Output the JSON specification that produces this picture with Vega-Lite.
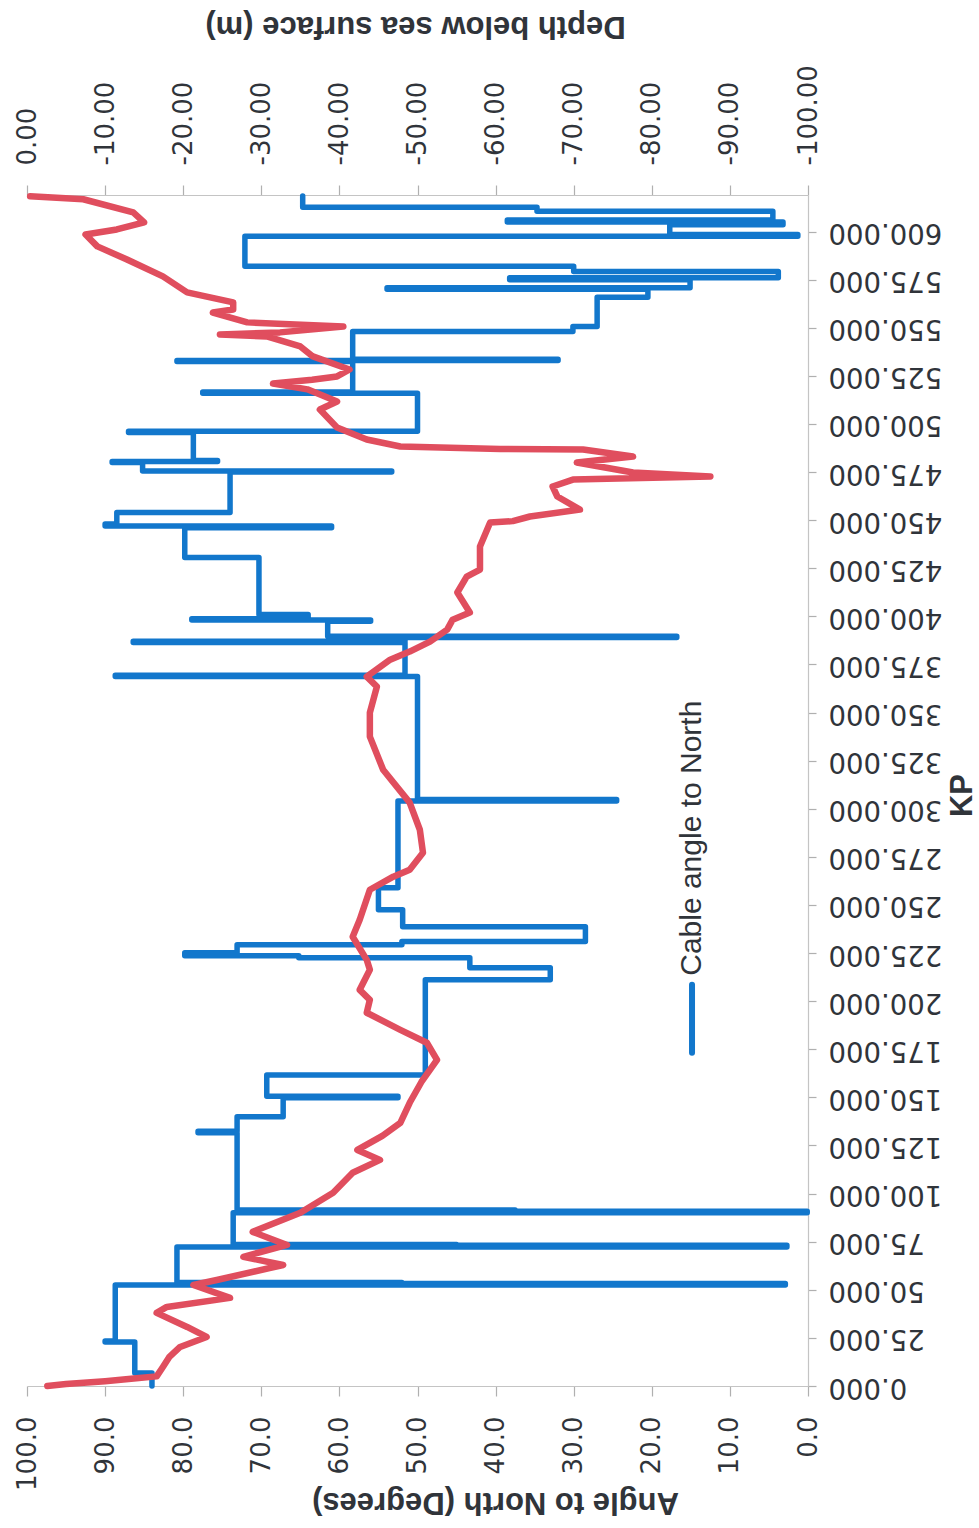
{
  "$schema": "https://vega.github.io/schema/vega-lite/v6.json",
  "width": 781,
  "height": 1191,
  "autosize": {"type": "none"},
  "padding": {"left": 27, "top": 195, "right": 171, "bottom": 142},
  "background": "white",
  "config": {
    "view": {"stroke": null},
    "axis": {
      "grid": false,
      "labelFont": "DejaVu Sans",
      "labelFontSize": 26,
      "labelColor": "#30343a",
      "titleFont": "Liberation Sans",
      "titleFontSize": 31,
      "titleFontWeight": "bold",
      "titleColor": "#30343a",
      "domainColor": "#c4c4c4",
      "domainWidth": 1.2,
      "tickColor": "#b0b0b0",
      "tickWidth": 1.2,
      "labelOverlap": false,
      "labelFlush": false,
      "labelBound": false
    }
  },
  "datasets": {
    "angle": [
      {"kp": 0, "angle": 84.0}, {"kp": 6.8, "angle": 84.0}, {"kp": 6.8, "angle": 86.2}, {"kp": 22.9, "angle": 86.2},
      {"kp": 22.9, "angle": 90.0}, {"kp": 23.4, "angle": 90.0}, {"kp": 23.4, "angle": 88.7}, {"kp": 52.5, "angle": 88.7},
      {"kp": 52.5, "angle": 2.9}, {"kp": 53.3, "angle": 2.9}, {"kp": 53.3, "angle": 52.0}, {"kp": 53.8, "angle": 52.0},
      {"kp": 53.8, "angle": 80.8}, {"kp": 72.3, "angle": 80.8}, {"kp": 72.3, "angle": 2.7}, {"kp": 73.1, "angle": 2.7},
      {"kp": 73.1, "angle": 45.0}, {"kp": 73.6, "angle": 45.0}, {"kp": 73.6, "angle": 73.6}, {"kp": 90.0, "angle": 73.6},
      {"kp": 90.0, "angle": 0.1}, {"kp": 90.8, "angle": 0.1}, {"kp": 90.8, "angle": 37.5}, {"kp": 91.5, "angle": 37.5},
      {"kp": 91.5, "angle": 73.1}, {"kp": 131.6, "angle": 73.1}, {"kp": 131.6, "angle": 78.1}, {"kp": 132.4, "angle": 78.1},
      {"kp": 132.4, "angle": 73.1}, {"kp": 139.9, "angle": 73.1}, {"kp": 139.9, "angle": 67.2}, {"kp": 149.8, "angle": 67.2},
      {"kp": 149.8, "angle": 52.5}, {"kp": 150.6, "angle": 52.5}, {"kp": 150.6, "angle": 69.3}, {"kp": 161.7, "angle": 69.3},
      {"kp": 161.7, "angle": 49.0}, {"kp": 211.1, "angle": 49.0}, {"kp": 211.1, "angle": 33.0}, {"kp": 217.4, "angle": 33.0},
      {"kp": 217.4, "angle": 43.3}, {"kp": 222.6, "angle": 43.3}, {"kp": 222.6, "angle": 65.2}, {"kp": 223.6, "angle": 65.2},
      {"kp": 223.6, "angle": 79.8}, {"kp": 225.2, "angle": 79.8}, {"kp": 225.2, "angle": 73.1}, {"kp": 229.3, "angle": 73.1},
      {"kp": 229.3, "angle": 52.0}, {"kp": 231.0, "angle": 52.0}, {"kp": 231.0, "angle": 28.5}, {"kp": 238.7, "angle": 28.5},
      {"kp": 238.7, "angle": 51.9}, {"kp": 247.5, "angle": 51.9}, {"kp": 247.5, "angle": 55.0}, {"kp": 259.0, "angle": 55.0},
      {"kp": 259.0, "angle": 52.5}, {"kp": 304.0, "angle": 52.5}, {"kp": 304.0, "angle": 24.5}, {"kp": 304.8, "angle": 24.5},
      {"kp": 304.8, "angle": 50.0}, {"kp": 368.7, "angle": 50.0}, {"kp": 368.7, "angle": 88.7}, {"kp": 369.4, "angle": 88.7},
      {"kp": 369.4, "angle": 51.6}, {"kp": 386.4, "angle": 51.6}, {"kp": 386.4, "angle": 86.4}, {"kp": 387.1, "angle": 86.4},
      {"kp": 387.1, "angle": 51.6}, {"kp": 389.0, "angle": 51.6}, {"kp": 389.0, "angle": 16.8}, {"kp": 389.7, "angle": 16.8},
      {"kp": 389.7, "angle": 61.5}, {"kp": 397.5, "angle": 61.5}, {"kp": 397.5, "angle": 56.0}, {"kp": 398.1, "angle": 56.0},
      {"kp": 398.1, "angle": 78.9}, {"kp": 398.7, "angle": 78.9}, {"kp": 398.7, "angle": 64.0}, {"kp": 401.0, "angle": 64.0},
      {"kp": 401.0, "angle": 70.3}, {"kp": 430.6, "angle": 70.3}, {"kp": 430.6, "angle": 79.8}, {"kp": 446.0, "angle": 79.8},
      {"kp": 446.0, "angle": 61.0}, {"kp": 447.0, "angle": 61.0}, {"kp": 447.0, "angle": 90.0}, {"kp": 448.0, "angle": 90.0},
      {"kp": 448.0, "angle": 88.5}, {"kp": 454.0, "angle": 88.5}, {"kp": 454.0, "angle": 74.0}, {"kp": 475.0, "angle": 74.0},
      {"kp": 475.0, "angle": 53.3}, {"kp": 475.6, "angle": 53.3}, {"kp": 475.6, "angle": 85.2}, {"kp": 480.0, "angle": 85.2},
      {"kp": 480.0, "angle": 89.1}, {"kp": 480.5, "angle": 89.1}, {"kp": 480.5, "angle": 75.6}, {"kp": 481.0, "angle": 75.6},
      {"kp": 481.0, "angle": 78.7}, {"kp": 495.6, "angle": 78.7}, {"kp": 495.6, "angle": 87.0}, {"kp": 496.2, "angle": 87.0},
      {"kp": 496.2, "angle": 50.0}, {"kp": 516.0, "angle": 50.0}, {"kp": 516.0, "angle": 77.5}, {"kp": 516.6, "angle": 77.5},
      {"kp": 516.6, "angle": 58.3}, {"kp": 532.5, "angle": 58.3}, {"kp": 532.5, "angle": 80.8}, {"kp": 533.0, "angle": 80.8},
      {"kp": 533.0, "angle": 32.0}, {"kp": 533.6, "angle": 32.0}, {"kp": 533.6, "angle": 58.3}, {"kp": 548.0, "angle": 58.3},
      {"kp": 548.0, "angle": 30.1}, {"kp": 550.7, "angle": 30.1}, {"kp": 550.7, "angle": 27.0}, {"kp": 565.8, "angle": 27.0},
      {"kp": 565.8, "angle": 20.5}, {"kp": 570.0, "angle": 20.5}, {"kp": 570.0, "angle": 53.9}, {"kp": 570.8, "angle": 53.9},
      {"kp": 570.8, "angle": 15.1}, {"kp": 575.0, "angle": 15.1}, {"kp": 575.0, "angle": 38.2}, {"kp": 576.0, "angle": 38.2},
      {"kp": 576.0, "angle": 3.8}, {"kp": 579.3, "angle": 3.8}, {"kp": 579.3, "angle": 30.0}, {"kp": 582.0, "angle": 30.0},
      {"kp": 582.0, "angle": 72.1}, {"kp": 597.5, "angle": 72.1}, {"kp": 597.5, "angle": 1.3}, {"kp": 598.5, "angle": 1.3},
      {"kp": 598.5, "angle": 17.7}, {"kp": 603.5, "angle": 17.7}, {"kp": 603.5, "angle": 3.2}, {"kp": 605.0, "angle": 3.2},
      {"kp": 605.0, "angle": 38.5}, {"kp": 606.0, "angle": 38.5}, {"kp": 606.0, "angle": 4.5}, {"kp": 610.5, "angle": 4.5},
      {"kp": 610.5, "angle": 34.7}, {"kp": 612.6, "angle": 34.7}, {"kp": 612.6, "angle": 64.7}, {"kp": 618.5, "angle": 64.7}
    ],
    "depth": [
      {"kp": 0, "depth": -2.6}, {"kp": 1.0, "depth": -5.0}, {"kp": 2.5, "depth": -10.0}, {"kp": 4.0, "depth": -14.0},
      {"kp": 5.0, "depth": -16.6}, {"kp": 9.9, "depth": -17.4}, {"kp": 15.0, "depth": -18.2}, {"kp": 20.3, "depth": -19.6},
      {"kp": 25.5, "depth": -23.0}, {"kp": 30.7, "depth": -20.5}, {"kp": 38.0, "depth": -16.6}, {"kp": 41.1, "depth": -17.9},
      {"kp": 45.8, "depth": -26.0}, {"kp": 52.5, "depth": -21.3}, {"kp": 55.1, "depth": -24.3}, {"kp": 62.9, "depth": -32.8},
      {"kp": 67.1, "depth": -27.7}, {"kp": 73.3, "depth": -33.3}, {"kp": 80.1, "depth": -28.9}, {"kp": 90.0, "depth": -35.0},
      {"kp": 100.4, "depth": -39.2}, {"kp": 110.8, "depth": -41.7}, {"kp": 117.5, "depth": -45.2}, {"kp": 122.7, "depth": -42.3},
      {"kp": 130.0, "depth": -45.5}, {"kp": 136.8, "depth": -47.8}, {"kp": 147.2, "depth": -49.0}, {"kp": 158.0, "depth": -50.5},
      {"kp": 169.5, "depth": -52.5}, {"kp": 178.4, "depth": -51.2}, {"kp": 185.1, "depth": -47.8}, {"kp": 194.0, "depth": -43.5},
      {"kp": 200.7, "depth": -43.9}, {"kp": 205.9, "depth": -42.6}, {"kp": 216.3, "depth": -43.9}, {"kp": 221.5, "depth": -43.5},
      {"kp": 233.5, "depth": -41.7}, {"kp": 242.3, "depth": -42.6}, {"kp": 257.9, "depth": -43.9}, {"kp": 264.7, "depth": -46.9},
      {"kp": 268.3, "depth": -49.0}, {"kp": 277.2, "depth": -50.7}, {"kp": 289.1, "depth": -50.3}, {"kp": 303.2, "depth": -49.0},
      {"kp": 320.3, "depth": -45.6}, {"kp": 337.5, "depth": -43.9}, {"kp": 350.0, "depth": -43.9}, {"kp": 363.5, "depth": -44.8},
      {"kp": 368.7, "depth": -43.5}, {"kp": 377.5, "depth": -46.5}, {"kp": 381.7, "depth": -49.0}, {"kp": 386.9, "depth": -51.6},
      {"kp": 393.1, "depth": -53.8}, {"kp": 398.3, "depth": -54.5}, {"kp": 402.0, "depth": -56.7}, {"kp": 412.4, "depth": -55.1},
      {"kp": 420.7, "depth": -56.3}, {"kp": 424.3, "depth": -58.0}, {"kp": 436.3, "depth": -58.0}, {"kp": 448.8, "depth": -59.3},
      {"kp": 449.5, "depth": -62.2}, {"kp": 451.9, "depth": -64.4}, {"kp": 455.5, "depth": -70.8}, {"kp": 462.3, "depth": -67.9},
      {"kp": 467.5, "depth": -67.3}, {"kp": 471.1, "depth": -69.9}, {"kp": 472.7, "depth": -87.5}, {"kp": 474.8, "depth": -77.6},
      {"kp": 480.0, "depth": -70.4}, {"kp": 483.1, "depth": -77.6}, {"kp": 486.7, "depth": -71.2}, {"kp": 487.0, "depth": -60.6},
      {"kp": 488.3, "depth": -47.8}, {"kp": 491.9, "depth": -43.5}, {"kp": 498.2, "depth": -39.7}, {"kp": 507.5, "depth": -37.5},
      {"kp": 511.7, "depth": -39.7}, {"kp": 518.0, "depth": -35.9}, {"kp": 521.0, "depth": -31.5}, {"kp": 523.0, "depth": -36.5},
      {"kp": 524.7, "depth": -39.7}, {"kp": 528.3, "depth": -41.3}, {"kp": 535.1, "depth": -36.6}, {"kp": 540.3, "depth": -35.0},
      {"kp": 545.5, "depth": -30.7}, {"kp": 546.5, "depth": -24.7}, {"kp": 547.6, "depth": -32.4}, {"kp": 550.7, "depth": -40.5},
      {"kp": 552.8, "depth": -28.2}, {"kp": 557.9, "depth": -23.8}, {"kp": 559.5, "depth": -26.4}, {"kp": 563.2, "depth": -26.4},
      {"kp": 568.4, "depth": -20.5}, {"kp": 576.7, "depth": -17.4}, {"kp": 585.5, "depth": -12.8}, {"kp": 592.3, "depth": -9.0},
      {"kp": 598.5, "depth": -7.5}, {"kp": 601.1, "depth": -11.5}, {"kp": 604.8, "depth": -15.0}, {"kp": 610.0, "depth": -13.6},
      {"kp": 616.8, "depth": -7.2}, {"kp": 618.3, "depth": -0.4}
    ]
  },
  "layer": [
    {
      "layer": [
        {
          "data": {"name": "angle"},
          "mark": {"type": "line", "color": "#1277CC", "strokeWidth": 5.5, "strokeJoin": "round", "strokeCap": "round"},
          "encoding": {
            "x": {
              "field": "angle", "type": "quantitative",
              "scale": {"domain": [0, 100], "reverse": true, "nice": false, "zero": false},
              "axis": {
                "orient": "bottom",
                "values": [0, 10, 20, 30, 40, 50, 60, 70, 80, 90, 100],
                "labelExpr": "format(datum.value, '.1f')",
                "labelAngle": 270, "labelAlign": "right", "labelBaseline": "middle",
                "tickSize": 10, "labelPadding": 20,
                "title": "Angle to North (Degrees)",
                "titleAngle": 180, "titleAlign": "center", "titleBaseline": "middle",
                "titleX": 468, "titleY": 115
              }
            },
            "y": {
              "field": "kp", "type": "quantitative",
              "scale": {"domain": [0, 619], "nice": false, "zero": false},
              "axis": {
                "orient": "right",
                "values": [0, 12.5, 25, 37.5, 50, 62.5, 75, 87.5, 100, 112.5, 125, 137.5, 150, 162.5, 175, 187.5, 200, 212.5, 225, 237.5, 250, 262.5, 275, 287.5, 300, 312.5, 325, 337.5, 350, 362.5, 375, 387.5, 400, 412.5, 425, 437.5, 450, 462.5, 475, 487.5, 500, 512.5, 525, 537.5, 550, 562.5, 575, 587.5, 600, 612.5],
                "labelExpr": "datum.value % 25 === 0 ? format(datum.value, '.3f') : ''",
                "labelFontSize": 27.5,
                "labelAngle": 180, "labelAlign": "right", "labelBaseline": "middle",
                "tickSize": 8, "labelPadding": 12,
                "title": "KP",
                "titleAngle": 270, "titleAlign": "center", "titleBaseline": "middle",
                "titleX": 154, "titleY": 600
              }
            },
            "order": {"value": null}
          }
        },
        {
          "data": {"values": [{"series": "Cable angle to North"}]},
          "mark": {"type": "rule", "color": "#1277CC", "strokeWidth": 6, "strokeCap": "round"},
          "encoding": {
            "x": {"datum": 14.85, "type": "quantitative"},
            "y": {"datum": 173.2, "type": "quantitative"},
            "y2": {"datum": 208.5}
          }
        },
        {
          "data": {"values": [{"series": "Cable angle to North"}]},
          "mark": {"type": "text", "angle": 270, "align": "left", "baseline": "middle", "font": "Liberation Sans", "fontSize": 30, "color": "#30343a"},
          "encoding": {
            "x": {"datum": 14.85, "type": "quantitative"},
            "y": {"datum": 213.2, "type": "quantitative"},
            "text": {"field": "series"}
          }
        }
      ]
    },
    {
      "data": {"name": "depth"},
      "mark": {"type": "line", "color": "#E04E5E", "strokeWidth": 6.5, "strokeJoin": "round", "strokeCap": "round"},
      "encoding": {
        "x": {
          "field": "depth", "type": "quantitative",
          "scale": {"domain": [-100, 0], "reverse": true, "nice": false, "zero": false},
          "axis": {
            "orient": "top",
            "values": [-100, -90, -80, -70, -60, -50, -40, -30, -20, -10, 0],
            "labelExpr": "datum.value == 0 ? '0.00' : '-' + format(-datum.value, '.2f')",
            "labelAngle": 270, "labelAlign": "left", "labelBaseline": "middle",
            "tickSize": 10, "labelPadding": 20,
            "title": "Depth below sea surface (m)",
            "titleAngle": 180, "titleAlign": "center", "titleBaseline": "middle",
            "titleX": 388, "titleY": -170
          }
        },
        "y": {"field": "kp", "type": "quantitative"},
        "order": {"value": null}
      }
    }
  ],
  "resolve": {"scale": {"x": "independent"}}
}
